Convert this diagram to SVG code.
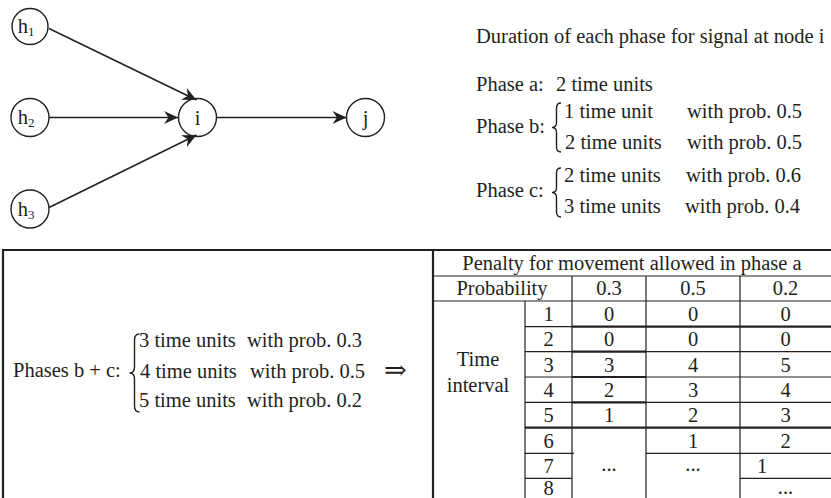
<svg xmlns="http://www.w3.org/2000/svg" width="831" height="498" viewBox="0 0 831 498">
<style>
text{font-family:"Liberation Serif","Times New Roman",serif;font-size:20.5px;fill:#231f20}
.c{text-anchor:middle}
.node{fill:none;stroke:#231f20;stroke-width:1.4}
.edge{stroke:#231f20;stroke-width:1.5;fill:none}
.brace{fill:none;stroke:#231f20;stroke-width:1.4}
.thin{stroke:#231f20;stroke-width:1.2}
.thick{stroke:#231f20;stroke-width:2.2}
.sub{font-size:13px}
</style>
<defs>
<marker id="ah" viewBox="-15 -7 16 14" refX="0" refY="0" markerWidth="16" markerHeight="14" markerUnits="userSpaceOnUse" orient="auto">
<path d="M0,0 L-14,-6.5 L-9.5,0 L-14,6.5 Z" fill="#231f20"/>
</marker>
</defs>
<rect width="831" height="498" fill="#fff"/>

<g id="connectors">
<line class="edge" x1="49" y1="28.5" x2="196.5" y2="100" marker-end="url(#ah)"/>
<line class="edge" x1="49" y1="117.5" x2="178" y2="117.5" marker-end="url(#ah)"/>
<line class="edge" x1="49" y1="207.5" x2="196.5" y2="135" marker-end="url(#ah)"/>
<line class="edge" x1="217" y1="117.5" x2="346.5" y2="117.5" marker-end="url(#ah)"/>
</g>

<g id="node-h1"><circle class="node" cx="30" cy="26.5" r="18"/><text x="26" y="33" class="c">h<tspan class="sub" dy="3">1</tspan></text></g>
<g id="node-h2"><circle class="node" cx="30" cy="117.5" r="19"/><text x="26" y="124" class="c">h<tspan class="sub" dy="3">2</tspan></text></g>
<g id="node-h3"><circle class="node" cx="30" cy="209" r="19"/><text x="26" y="215.5" class="c">h<tspan class="sub" dy="3">3</tspan></text></g>
<g id="node-i"><circle class="node" cx="197.5" cy="117.5" r="19"/><text x="197.5" y="124.5" class="c">i</text></g>
<g id="node-j"><circle class="node" cx="365.5" cy="117.5" r="19"/><text x="365.5" y="124.5" class="c">j</text></g>

<g id="phase-durations">
<text x="476" y="43">Duration of each phase for signal at node i</text>
<text x="476" y="91">Phase a:</text>
<text x="556" y="91">2 time units</text>
<text x="476" y="133">Phase b:</text>
<path class="brace" d="M561,103 Q556.5,103 556.5,108 L556.5,122.5 Q556.5,127.5 552,127.5 Q556.5,127.5 556.5,132.5 L556.5,147 Q556.5,152 561,152"/>
<text x="564" y="118">1 time unit</text>
<text x="687" y="118">with prob. 0.5</text>
<text x="565" y="149">2 time units</text>
<text x="687" y="149">with prob. 0.5</text>
<text x="476" y="197">Phase c:</text>
<path class="brace" d="M561,168 Q556.5,168 556.5,173 L556.5,187.5 Q556.5,192.5 552,192.5 Q556.5,192.5 556.5,197.5 L556.5,212 Q556.5,217 561,217"/>
<text x="564" y="182">2 time units</text>
<text x="686" y="182">with prob. 0.6</text>
<text x="564" y="212.5">3 time units</text>
<text x="685" y="212.5">with prob. 0.4</text>
</g>

<g id="combined-box">
<line class="thick" x1="3" y1="250" x2="831" y2="250"/>
<line class="thick" x1="3" y1="249" x2="3" y2="498"/>
<text x="13" y="377">Phases b + c:</text>
<path class="brace" d="M139.5,334 Q134.5,334 134.5,340 L134.5,367 Q134.5,373 129.5,373 Q134.5,373 134.5,379 L134.5,406 Q134.5,412 139.5,412"/>
<text x="139" y="347">3 time units</text>
<text x="247" y="347">with prob. 0.3</text>
<text x="140" y="378">4 time units</text>
<text x="250" y="378">with prob. 0.5</text>
<text x="139" y="407">5 time units</text>
<text x="247" y="407">with prob. 0.2</text>
<text x="384" y="379" style="font-family:'DejaVu Serif',serif;font-size:27px">⇒</text>
</g>

<g id="penalty-table">
<line class="thick" x1="433" y1="249" x2="433" y2="498"/>
<line class="thin" x1="433" y1="276" x2="831" y2="276"/>
<line class="thin" x1="433" y1="301" x2="831" y2="301"/>
<line class="thin" x1="525" y1="326.7" x2="572" y2="326.7"/>
<line class="thick" x1="572" y1="326.7" x2="831" y2="326.7"/>
<line class="thin" x1="525" y1="351.7" x2="572" y2="351.7"/>
<line class="thick" x1="572" y1="351.7" x2="646" y2="351.7"/>
<line class="thin" x1="646" y1="351.7" x2="831" y2="351.7"/>
<line class="thin" x1="525" y1="377" x2="572" y2="377"/>
<line class="thick" x1="572" y1="377" x2="646" y2="377"/>
<line class="thin" x1="646" y1="377" x2="831" y2="377"/>
<line class="thin" x1="525" y1="402.3" x2="572" y2="402.3"/>
<line class="thick" x1="572" y1="402.3" x2="646" y2="402.3"/>
<line class="thin" x1="646" y1="402.3" x2="831" y2="402.3"/>
<line class="thick" x1="525" y1="427.7" x2="831" y2="427.7"/>
<line class="thin" x1="525" y1="453.3" x2="574" y2="453.3"/>
<line class="thin" x1="646" y1="453.3" x2="831" y2="453.3"/>
<line class="thin" x1="525" y1="478.3" x2="572" y2="478.3"/>
<line class="thin" x1="740" y1="478.3" x2="831" y2="478.3"/>
<line class="thin" x1="525" y1="301" x2="525" y2="498"/>
<line class="thin" x1="572" y1="276" x2="572" y2="498"/>
<line class="thin" x1="646" y1="276" x2="646" y2="498"/>
<line class="thin" x1="740" y1="276" x2="740" y2="498"/>

<text x="632" y="270" class="c">Penalty for movement allowed in phase a</text>
<text x="502" y="295" class="c">Probability</text>
<text x="609" y="295" class="c">0.3</text>
<text x="693" y="295" class="c">0.5</text>
<text x="785.5" y="295" class="c">0.2</text>
<text x="478" y="366" class="c">Time</text>
<text x="478" y="392" class="c">interval</text>

<text x="548.5" y="321" class="c">1</text>
<text x="548.5" y="346" class="c">2</text>
<text x="548.5" y="371.5" class="c">3</text>
<text x="548.5" y="396.5" class="c">4</text>
<text x="548.5" y="422" class="c">5</text>
<text x="548.5" y="447.5" class="c">6</text>
<text x="548.5" y="472.5" class="c">7</text>
<text x="548.5" y="495" class="c">8</text>

<text x="609" y="321" class="c">0</text>
<text x="609" y="346" class="c">0</text>
<text x="609" y="371.5" class="c">3</text>
<text x="609" y="396.5" class="c">2</text>
<text x="609" y="422" class="c">1</text>
<text x="609" y="471" class="c">...</text>

<text x="693" y="321" class="c">0</text>
<text x="693" y="346" class="c">0</text>
<text x="693" y="371.5" class="c">4</text>
<text x="693" y="396.5" class="c">3</text>
<text x="693" y="422" class="c">2</text>
<text x="693" y="447.5" class="c">1</text>
<text x="693" y="471" class="c">...</text>

<text x="785.5" y="321" class="c">0</text>
<text x="785.5" y="346" class="c">0</text>
<text x="785.5" y="371.5" class="c">5</text>
<text x="785.5" y="396.5" class="c">4</text>
<text x="785.5" y="422" class="c">3</text>
<text x="785.5" y="447.5" class="c">2</text>
<text x="757" y="472.5">1</text>
<text x="785.5" y="494" class="c">...</text>
</g>
</svg>
